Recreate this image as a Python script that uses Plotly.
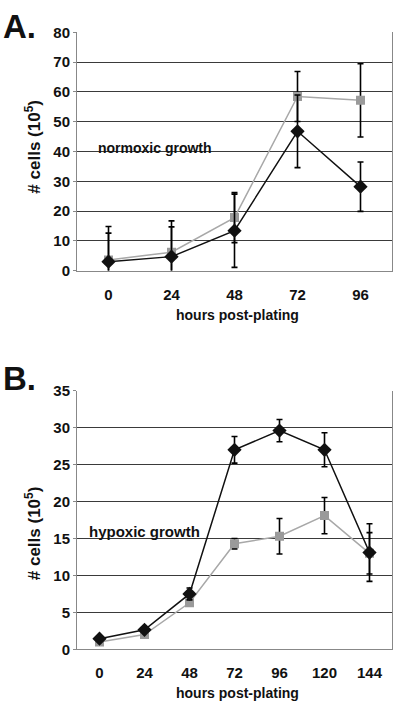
import plotly.graph_objects as go

# ---- Data ----
hours_a = ["0", "24", "48", "72", "96"]
black_a = [3.0, 4.7, 13.4, 46.8, 28.2]
black_a_err = [9.6, 10.0, 12.3, 12.2, 8.3]
gray_a = [3.6, 6.2, 17.8, 58.5, 57.2]
gray_a_err = [11.2, 10.5, 8.4, 8.4, 12.3]

hours_b = ["0", "24", "48", "72", "96", "120", "144"]
black_b = [1.45, 2.65, 7.5, 27.0, 29.6, 27.0, 13.1]
black_b_err = [0.2, 0.3, 0.8, 1.8, 1.5, 2.3, 3.9]
gray_b = [1.0, 2.0, 6.3, 14.3, 15.3, 18.1, 13.0]
gray_b_err = [0.2, 0.4, 0.4, 0.7, 2.4, 2.45, 2.8]

y_ticks_a = [0, 10, 20, 30, 40, 50, 60, 70, 80]
y_ticks_b = [0, 5, 10, 15, 20, 25, 30, 35]

W, H = 400, 714
FONT = "Liberation Sans, Arial, sans-serif"

def py(px):
    return 1 - px / H

def px_(x):
    return x / W

fig = go.Figure()

def add_series(x, y, err, color, lcolor, symbol, size, xa, ya):
    fig.add_trace(go.Scatter(
        x=x, y=y, mode="lines+markers",
        line=dict(color=lcolor, width=1.5),
        marker=dict(symbol=symbol, size=size, color=color),
        error_y=dict(type="data", array=err, visible=True, color="#000000",
                     thickness=1.6, width=3),
        xaxis=xa, yaxis=ya, showlegend=False, cliponaxis=True,
    ))

add_series(hours_a, gray_a, gray_a_err, "#9a9a9a", "#a8a8a8", "square", 9, "x", "y")
add_series(hours_a, black_a, black_a_err, "#111111", "#111111", "diamond", 11, "x", "y")
add_series(hours_b, gray_b, gray_b_err, "#9a9a9a", "#a8a8a8", "square", 9, "x2", "y2")
add_series(hours_b, black_b, black_b_err, "#111111", "#111111", "diamond", 11, "x2", "y2")

xdom = [px_(77), px_(392)]
tickfont = dict(family=FONT, size=15, color="#111111", weight="bold")

common_x = dict(type="category", showgrid=False, showline=True, linecolor="#888888",
                linewidth=1, mirror=False, ticks="outside", ticklen=10,
                tickcolor="rgba(0,0,0,0)", tickfont=tickfont, zeroline=False)
common_y = dict(showgrid=True, gridcolor="#3a3a3a", gridwidth=1, showline=True,
                linecolor="#888888", linewidth=1, mirror=True, ticks="outside",
                ticklen=3, tickcolor="#888888", tickfont=tickfont, zeroline=False)

fig.update_layout(
    width=W, height=H, margin=dict(l=0, r=0, t=0, b=0),
    paper_bgcolor="white", plot_bgcolor="white",
    xaxis=dict(domain=xdom, anchor="y", range=[-0.5, 4.5],
               categoryorder="array", categoryarray=hours_a, **common_x),
    yaxis=dict(domain=[py(268), py(24)], anchor="x", range=[0, 80],
               tickvals=y_ticks_a, **common_y),
    xaxis2=dict(domain=xdom, anchor="y2", range=[-0.5, 6.5],
                categoryorder="array", categoryarray=hours_b, **common_x),
    yaxis2=dict(domain=[py(656), py(391)], anchor="x2", range=[0, 35],
                tickvals=y_ticks_b, **common_y),
)

ann = []
bold = lambda s: f"<b>{s}</b>"

def note(text, x, y, size, xanchor="center", angle=0):
    ann.append(dict(text=bold(text), x=px_(x), y=py(y), xref="paper", yref="paper",
                    xanchor=xanchor, yanchor="middle", textangle=angle,
                    showarrow=False, font=dict(family=FONT, size=size, color="#111")))

# Panel letters
note("A.", 1, 18, 33, xanchor="left")
note("B.", 1, 378, 33, xanchor="left")
# y titles
note("# cells (10<sup>5</sup>)", 33, 141, 17, angle=-90)
note("# cells (10<sup>5</sup>)", 33, 537, 17, angle=-90)
# x titles
note("hours post-plating", 237, 313, 14)
note("hours post-plating", 237, 701, 14)
# inline labels
note("normoxic growth", 96, 142, 14, xanchor="left")
note("hypoxic growth", 87, 535, 15, xanchor="left")
fig.update_layout(annotations=ann)

css_js = (
    "var s=document.createElement('style');"
    "s.innerHTML='html,body{margin:0;padding:0;overflow:hidden;}';"
    "document.head.appendChild(s);"
)
fig.write_html("out.html", config={"displayModeBar": False}, post_script=css_js)
